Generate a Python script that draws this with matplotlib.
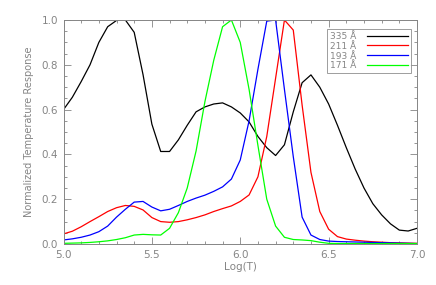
import matplotlib
matplotlib.use("Agg")
import matplotlib.pyplot as plt
from matplotlib.ticker import MultipleLocator, FormatStrFormatter

logt = [5.00, 5.05, 5.10, 5.15, 5.20, 5.25, 5.30, 5.35, 5.40, 5.45,
        5.50, 5.55, 5.60, 5.65, 5.70, 5.75, 5.80, 5.85, 5.90, 5.95,
        6.00, 6.05, 6.10, 6.15, 6.20, 6.25, 6.30, 6.35, 6.40, 6.45,
        6.50, 6.55, 6.60, 6.65, 6.70, 6.75, 6.80, 6.85, 6.90, 6.95, 7.00]

r335 = [0.60, 0.655, 0.725, 0.80, 0.90, 0.97, 0.998, 1.00, 0.945, 0.756,
        0.535, 0.413, 0.413, 0.465, 0.53, 0.59, 0.612, 0.625, 0.63, 0.612,
        0.585, 0.545, 0.48, 0.43, 0.395, 0.443, 0.59, 0.72, 0.755, 0.70,
        0.625, 0.53, 0.43, 0.335, 0.25, 0.18, 0.13, 0.09, 0.062, 0.058, 0.07]

r211 = [0.045, 0.057, 0.077, 0.100, 0.122, 0.145, 0.162, 0.172, 0.168, 0.152,
        0.118, 0.100, 0.097, 0.100, 0.108, 0.118, 0.130, 0.145, 0.158, 0.170,
        0.190, 0.219, 0.300, 0.48, 0.74, 1.00, 0.955, 0.62, 0.32, 0.145,
        0.066, 0.033, 0.022, 0.017, 0.013, 0.010, 0.008, 0.006, 0.005, 0.004, 0.003]

r193 = [0.018, 0.023, 0.030, 0.040, 0.055, 0.080, 0.120, 0.155, 0.187, 0.190,
        0.165, 0.148, 0.155, 0.172, 0.190, 0.205, 0.218, 0.235, 0.255, 0.290,
        0.375, 0.55, 0.78, 0.995, 1.00, 0.69, 0.39, 0.12, 0.040, 0.020,
        0.013, 0.011, 0.010, 0.009, 0.008, 0.007, 0.006, 0.005, 0.004, 0.003, 0.002]

r171 = [0.003, 0.004, 0.005, 0.007, 0.010, 0.014, 0.020, 0.028, 0.040, 0.043,
        0.041, 0.040, 0.070, 0.140, 0.250, 0.415, 0.635, 0.82, 0.97, 1.00,
        0.90, 0.69, 0.44, 0.20, 0.08, 0.030, 0.020, 0.018, 0.015, 0.008,
        0.003, 0.002, 0.002, 0.002, 0.002, 0.002, 0.002, 0.002, 0.002, 0.002, 0.002]

labels = ["335 \u00c5", "211 \u00c5", "193 \u00c5", "171 \u00c5"]
series = [r335, r211, r193, r171]
colors = ["black", "#ff0000", "#0000ff", "#00ff00"]

gray = "#858585"
plt.rcParams['font.family'] = ['DejaVu Sans']

fig = plt.figure(figsize=(4.36, 2.85), dpi=100)
ax = fig.add_axes([63.5/436, 1 - 244/285, (417 - 63.5)/436, (244 - 20)/285])

for ys, c, lab in zip(series, colors, labels):
    ax.plot(logt, ys, color=c, lw=0.9, label=lab)

ax.set_xlim(5.0, 7.0)
ax.set_ylim(0.0, 1.0)
ax.xaxis.set_major_locator(MultipleLocator(0.5))
ax.xaxis.set_minor_locator(MultipleLocator(0.1))
ax.yaxis.set_major_locator(MultipleLocator(0.2))
ax.yaxis.set_minor_locator(MultipleLocator(0.05))
ax.xaxis.set_major_formatter(FormatStrFormatter('%.1f'))
ax.yaxis.set_major_formatter(FormatStrFormatter('%.1f'))
ax.tick_params(which='both', direction='in', top=True, right=True,
               colors=gray, labelsize=7.5, width=0.6)
ax.tick_params(which='major', length=5, pad=4)
ax.tick_params(which='minor', length=2.5)
for s in ax.spines.values():
    s.set_color(gray)
    s.set_linewidth(0.7)

ax.set_xlabel("Log(T)", color=gray, fontsize=7.5, labelpad=2)
ax.set_ylabel("Normalized Temperature Response", color=gray, fontsize=7, labelpad=5)

leg = ax.legend(loc='upper right', markerfirst=False,
                fontsize=6.5, frameon=True, fancybox=False, edgecolor=gray,
                handlelength=4.6, labelspacing=0.1, borderpad=0.3,
                handletextpad=1.2, borderaxespad=0)
leg.set_bbox_to_anchor((411/436, 1 - 29/285), transform=fig.transFigure)
leg.get_frame().set_linewidth(0.7)
for t in leg.get_texts():
    t.set_color(gray)

fig.savefig("out.png", dpi=100)
